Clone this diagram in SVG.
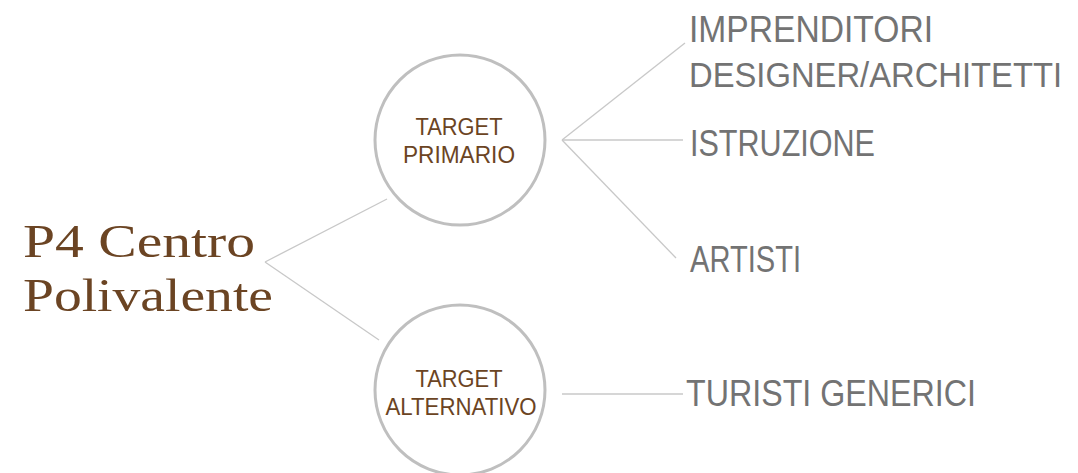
<svg xmlns="http://www.w3.org/2000/svg" width="1078" height="473" viewBox="0 0 1078 473">
<style>
.conn{stroke:#c8c8c8;stroke-width:1.3;fill:none}
.circ{fill:#fff;stroke:#bfbfbf;stroke-width:3}
.ct{font-family:"Liberation Sans",Arial,sans-serif;font-size:23px;fill:#6b4423;text-anchor:middle}
.lbl{font-family:"Liberation Sans",Arial,sans-serif;font-size:36px;fill:#737373}
.title{font-family:"Liberation Serif","Times New Roman",serif;font-size:47px;fill:#6b4423}
</style>
<rect width="1078" height="473" fill="#fff"/>
<g id="connectors">
<line class="conn" x1="265" y1="262" x2="387" y2="199"/>
<line class="conn" x1="265" y1="262" x2="379" y2="340"/>
<line class="conn" x1="562" y1="140" x2="685" y2="43"/>
<line class="conn" x1="562" y1="140" x2="683" y2="140"/>
<line class="conn" x1="562" y1="140" x2="676" y2="258"/>
<line class="conn" x1="562" y1="394" x2="683" y2="394"/>
</g>
<g id="title">
<text class="title" x="23" y="257" textLength="232" lengthAdjust="spacingAndGlyphs">P4 Centro</text>
<text class="title" x="23" y="311" textLength="250" lengthAdjust="spacingAndGlyphs">Polivalente</text>
</g>
<g id="target-primario">
<circle class="circ" cx="460" cy="140" r="85"/>
<text class="ct" x="459" y="135" textLength="87" lengthAdjust="spacingAndGlyphs">TARGET</text>
<text class="ct" x="459" y="163" textLength="112" lengthAdjust="spacingAndGlyphs">PRIMARIO</text>
</g>
<g id="target-alternativo">
<circle class="circ" cx="460" cy="390" r="85"/>
<text class="ct" x="459" y="387" textLength="87" lengthAdjust="spacingAndGlyphs">TARGET</text>
<text class="ct" x="461" y="415" textLength="151" lengthAdjust="spacingAndGlyphs">ALTERNATIVO</text>
</g>
<g id="imprenditori">
<text class="lbl" x="689" y="42" textLength="244" lengthAdjust="spacingAndGlyphs">IMPRENDITORI</text>
<text class="lbl" transform="translate(689,87) scale(0.91,1)" x="0" y="0">DESIGNER/ARCHITETTI</text>
</g>
<g id="istruzione">
<text class="lbl" x="690" y="156" textLength="185" lengthAdjust="spacingAndGlyphs">ISTRUZIONE</text>
</g>
<g id="artisti">
<text class="lbl" x="690" y="272" textLength="111" lengthAdjust="spacingAndGlyphs">ARTISTI</text>
</g>
<g id="turisti">
<text class="lbl" x="686" y="406" textLength="290" lengthAdjust="spacingAndGlyphs">TURISTI GENERICI</text>
</g>
</svg>
